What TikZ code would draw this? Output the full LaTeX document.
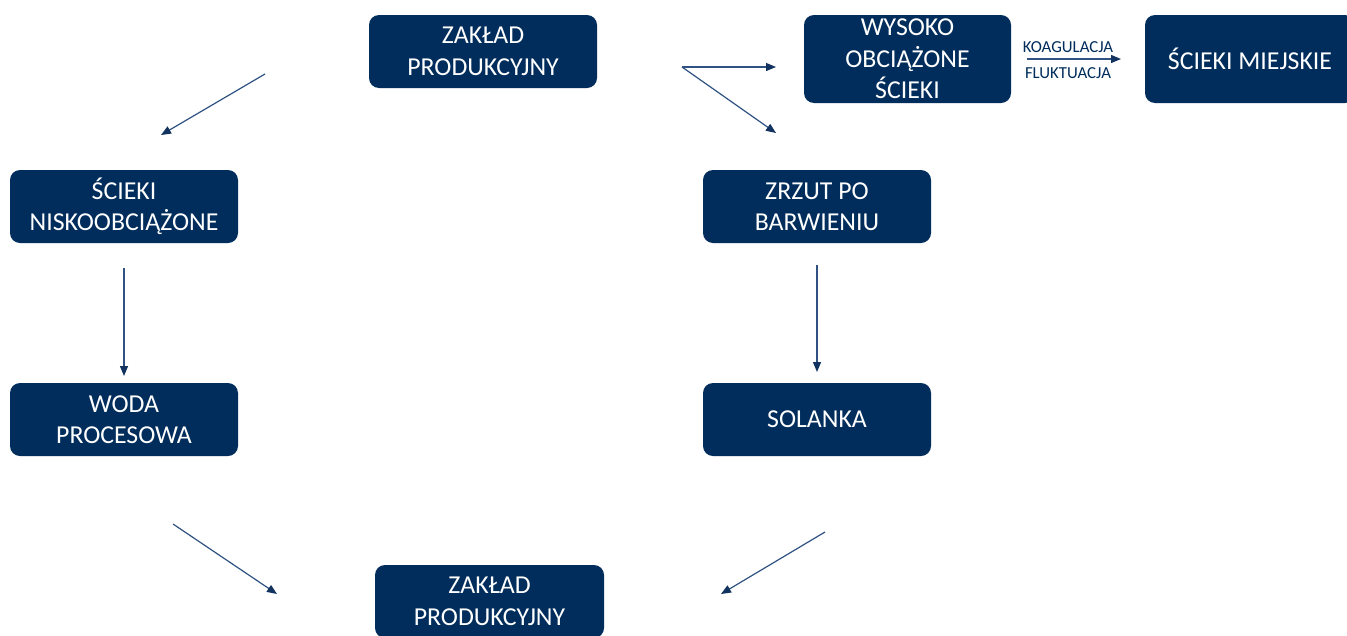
\documentclass[tikz,border=0pt]{standalone}
\usepackage{fontspec}
\setmainfont{Carlito}
\usetikzlibrary{arrows.meta}
\definecolor{boxblue}{HTML}{002D5B}
\definecolor{arrowblue}{HTML}{2F5283}
\definecolor{headblue}{HTML}{12335F}
\begin{document}
\begin{tikzpicture}[x=1pt,y=-1pt,
  box/.style={draw=none, fill=boxblue, rounded corners=10pt, text=white,
    align=center, inner sep=0pt, font=\fontsize{25.8}{31.5}\selectfont},
  flow/.style={draw=arrowblue, line width=1.2pt,
    -{Triangle[length=10pt,width=8pt,color=headblue,fill=headblue]}},
  small/.style={font=\fontsize{16.8}{20}\selectfont, text=boxblue, inner sep=0pt}
]
\useasboundingbox (0,0) rectangle (1347,635);
\fill[white] (0,0) rectangle (1347,635);

\node[box, minimum width=228pt, minimum height=73pt] (zt) at (483,51.5) {ZAKŁAD\\PRODUKCYJNY};
\node[box, minimum width=207pt, minimum height=88pt] (wo) at (907.5,59) {WYSOKO\\OBCIĄŻONE\\ŚCIEKI};
\node[box, minimum width=210pt, minimum height=88pt] (sm) at (1250,59) {ŚCIEKI MIEJSKIE};
\node[box, minimum width=228pt, minimum height=73pt] (sn) at (124,206.5) {ŚCIEKI\\NISKOOBCIĄŻONE};
\node[box, minimum width=228pt, minimum height=73pt] (wp) at (124,419.5) {WODA\\PROCESOWA};
\node[box, minimum width=228pt, minimum height=73pt] (zb) at (817,206.5) {ZRZUT PO\\BARWIENIU};
\node[box, minimum width=228pt, minimum height=73pt] (so) at (817,419.5) {SOLANKA};
\node[box, minimum width=229pt, minimum height=73pt] (zd) at (489.5,601.5) {ZAKŁAD\\PRODUKCYJNY};

\coordinate (a1s) at (265,74);   \coordinate (a1e) at (161,135);
\coordinate (a2s) at (682,67);   \coordinate (a2e) at (776,67);
\coordinate (a3e) at (776,133);
\coordinate (a4s) at (124,268);  \coordinate (a4e) at (124,376);
\coordinate (a5s) at (817,265);  \coordinate (a5e) at (817,372);
\coordinate (a6s) at (173,524);  \coordinate (a6e) at (277,594);
\coordinate (a7s) at (825,532);  \coordinate (a7e) at (721,594);
\coordinate (a8s) at (1027,59);  \coordinate (a8e) at (1121,59);

\draw[flow] (a1s) -- (a1e);
\draw[flow] (a2s) -- (a2e);
\draw[flow] (a2s) -- (a3e);
\draw[flow] (a4s) -- (a4e);
\draw[flow] (a5s) -- (a5e);
\draw[flow] (a6s) -- (a6e);
\draw[flow] (a7s) -- (a7e);
\draw[flow] (a8s) -- (a8e);
\node[small] (lk) at (1068,47) {KOAGULACJA};
\node[small] (lf) at (1068,73) {FLUKTUACJA};
\end{tikzpicture}
\end{document}
